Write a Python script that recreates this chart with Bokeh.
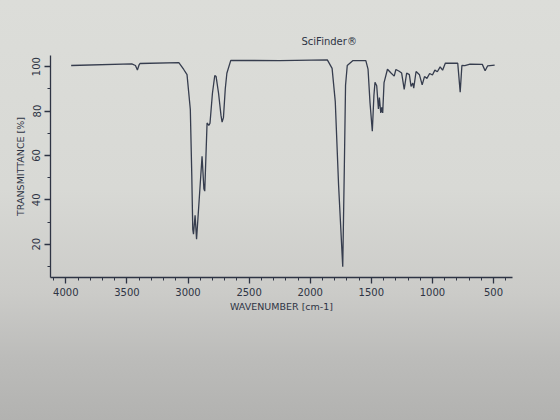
from bokeh.plotting import figure
from bokeh.models import Range1d, SingleIntervalTicker
from bokeh.embed import file_html
from bokeh.resources import INLINE

wavenumber = [3956, 3460, 3430, 3414, 3400, 3393, 3075, 3035, 3008, 2981, 2969, 2961,
              2955, 2942, 2930, 2885, 2870, 2863, 2844, 2830, 2820, 2800, 2781, 2770,
              2750, 2730, 2721, 2710, 2695, 2682, 2650, 2250, 1860, 1821, 1795, 1768,
              1734, 1721, 1711, 1697, 1650, 1545, 1527, 1511, 1492, 1479, 1470, 1456,
              1442, 1434, 1423, 1415, 1407, 1396, 1368, 1341, 1313, 1299, 1272, 1252,
              1231, 1211, 1189, 1175, 1161, 1153, 1134, 1106, 1084, 1065, 1045, 1023,
              1000, 980, 960, 937, 917, 894, 793, 773, 759, 735, 692, 592, 569, 549, 491]
transmittance = [100.5, 101.2, 100.5, 98.5, 100.8, 101.4, 101.8, 98.7, 96.4, 80.7, 50.9, 26.7,
                 24.5, 33.0, 22.2, 59.6, 45.0, 43.9, 74.6, 73.5, 74.5, 88.0, 96.0, 95.5,
                 88.0, 78.0, 75.0, 77.0, 90.0, 97.0, 102.8, 102.7, 103.0, 99.2, 84.2, 46.7,
                 9.9, 54.2, 91.6, 100.5, 102.7, 102.7, 98.9, 83.9, 70.9, 86.9, 92.9, 91.4,
                 80.9, 86.1, 79.1, 81.6, 79.1, 92.8, 98.8, 97.2, 95.7, 98.7, 97.9, 97.1,
                 89.7, 97.1, 96.4, 91.1, 92.6, 90.3, 97.8, 96.3, 91.8, 95.5, 94.7, 96.9,
                 96.2, 98.4, 97.7, 99.9, 98.4, 101.6, 101.5, 88.5, 100.5, 100.4, 101.1, 101.0,
                 98.1, 100.3, 100.7]

title_text = "SciFinder®"
x_label = "WAVENUMBER [cm-1]"
y_label = "TRANSMITTANCE [%]"

ink = "#2e3444"
font = "DejaVu Sans"

p = figure(width=560, height=420, output_backend="svg", toolbar_location=None,
           x_range=Range1d(4125, 345), y_range=Range1d(5, 105),
           min_border_left=50, min_border_right=48, min_border_top=55, min_border_bottom=143)

p.line(wavenumber, transmittance, line_color="#363d4e", line_width=1.3)

p.title.text = title_text
p.title.align = "left"
p.title.offset = 251
p.title.text_font = font
p.title.text_font_size = "10px"
p.title.text_font_style = "normal"
p.title.text_color = ink
p.title.standoff = 18

p.grid.visible = False
p.outline_line_color = None
p.background_fill_alpha = 0
p.border_fill_alpha = 0
p.styles = {"background": "linear-gradient(to bottom, #dcddd9 0%, #d8d9d5 45%, #cbcbc8 70%, #bcbcba 85%, #b2b2b0 100%)"}

p.xaxis.ticker = SingleIntervalTicker(interval=500, num_minor_ticks=5)
p.yaxis.ticker = SingleIntervalTicker(interval=20, num_minor_ticks=2)

for ax in (p.xaxis[0], p.yaxis[0]):
    ax.axis_line_color = ink
    ax.axis_line_width = 1.3
    ax.major_tick_line_color = ink
    ax.minor_tick_line_color = ink
    ax.major_tick_line_width = 1.3
    ax.major_tick_out = 6
    ax.major_tick_in = 0
    ax.minor_tick_out = 3
    ax.minor_tick_in = 0
    ax.major_label_text_font = font
    ax.major_label_text_font_size = "10px"
    ax.major_label_text_color = ink
    ax.axis_label_text_font = font
    ax.axis_label_text_font_size = "9.5px"
    ax.axis_label_text_font_style = "normal"
    ax.axis_label_text_color = ink

p.xaxis.axis_label = x_label
p.yaxis.axis_label = y_label
p.yaxis.major_label_orientation = "vertical"
p.xaxis.major_label_standoff = 4
p.xaxis.axis_label_standoff = 2
p.yaxis.major_label_standoff = 4
p.yaxis.axis_label_standoff = 4

open("out.html", "w").write(file_html(p, INLINE))
